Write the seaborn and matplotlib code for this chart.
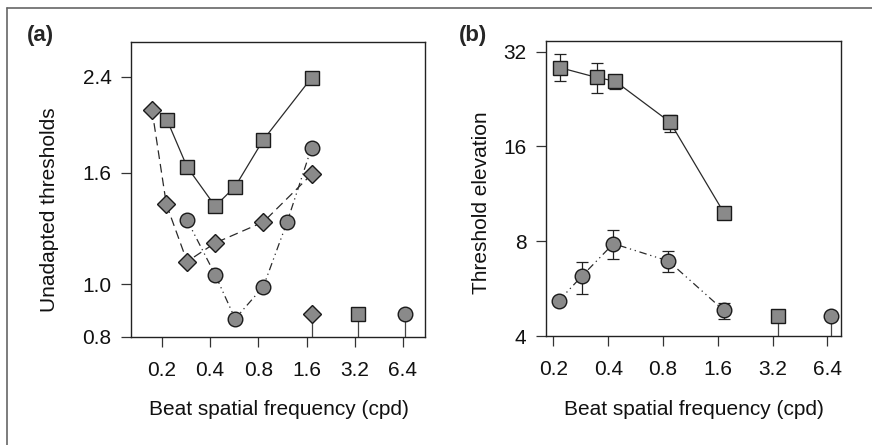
import matplotlib
matplotlib.use("Agg")
import matplotlib.pyplot as plt
from matplotlib.lines import Line2D
from matplotlib.ticker import FixedLocator, NullLocator, FixedFormatter
import seaborn as sns
import pandas as pd

sns.set_style("ticks")
plt.rcParams['font.family'] = ['Liberation Sans', 'DejaVu Sans']

# ---------------- data ----------------
xticks = [0.2, 0.4, 0.8, 1.6, 3.2, 6.4]
xtick_labels = ["0.2", "0.4", "0.8", "1.6", "3.2", "6.4"]

# Panel (a): unadapted thresholds
a_sq_x = [0.215, 0.287, 0.43, 0.573, 0.86, 1.72]
a_sq_y = [2.00, 1.64, 1.39, 1.51, 1.84, 2.39]
a_di_x = [0.173, 0.213, 0.287, 0.43, 0.86, 1.72]
a_di_y = [2.09, 1.40, 1.10, 1.19, 1.30, 1.59]
a_ci_x = [0.287, 0.43, 0.573, 0.86, 1.21, 1.72]
a_ci_y = [1.31, 1.04, 0.864, 0.99, 1.30, 1.78]
a_none_x = [1.72, 3.34, 6.62]
a_none_y = [0.88, 0.88, 0.88]
a_none_marker = ["D", "s", "o"]
a_yticks = [0.8, 1.0, 1.6, 2.4]
a_ytick_labels = ["0.8", "1.0", "1.6", "2.4"]

# Panel (b): threshold elevation
b_sq_x = [0.216, 0.346, 0.436, 0.875, 1.73]
b_sq_y = [28.5, 26.5, 25.8, 19.1, 9.84]
b_sq_lo = [25.8, 23.6, 24.3, 17.8, 9.84]
b_sq_hi = [31.4, 29.5, 27.0, 20.2, 9.84]
b_ci_x = [0.214, 0.286, 0.427, 0.857, 1.72]
b_ci_y = [5.18, 6.19, 7.86, 6.92, 4.83]
b_ci_lo = [5.18, 5.44, 7.05, 6.39, 4.52]
b_ci_hi = [5.18, 6.87, 8.71, 7.44, 5.10]
b_none_x = [3.44, 6.70]
b_none_y = [4.63, 4.63]
b_none_marker = ["s", "o"]
b_yticks = [4, 8, 16, 32]
b_ytick_labels = ["4", "8", "16", "32"]

# ---------------- style ----------------
FACE = "#8a8a8a"
EDGE = "#1a1a1a"
LINEC = "#2a2a2a"
FS = 15
MS = {"D": 9.5, "s": 10, "o": 10.5}

fig = plt.figure(figsize=(8.72, 4.45), dpi=100)
axa = fig.add_axes([131/872, 1-337/445, 294/872, 295/445])
axb = fig.add_axes([546/872, 1-336/445, 295/872, 295/445])


def series(ax, x, y, marker, ls):
    df = pd.DataFrame({"x": x, "y": y})
    sns.lineplot(data=df, x="x", y="y", ax=ax, sort=False, estimator=None,
                 color=LINEC, lw=0.9, linestyle=ls, marker=marker, markersize=MS[marker],
                 markerfacecolor=FACE, markeredgecolor=EDGE, markeredgewidth=1.0,
                 zorder=3)


def style_axes(ax, yticks, ylabels, ylim, xlim):
    ax.set_xscale("log", base=2)
    ax.set_yscale("log")
    ax.set_xlim(*xlim)
    ax.set_ylim(*ylim)
    ax.xaxis.set_major_locator(FixedLocator(xticks))
    ax.xaxis.set_major_formatter(FixedFormatter(xtick_labels))
    ax.xaxis.set_minor_locator(NullLocator())
    ax.yaxis.set_major_locator(FixedLocator(yticks))
    ax.yaxis.set_major_formatter(FixedFormatter(ylabels))
    ax.yaxis.set_minor_locator(NullLocator())
    ax.tick_params(axis="both", direction="out", length=7, width=0.9,
                   color="#333333", labelsize=FS, labelcolor="#111111")
    ax.tick_params(axis="x", pad=10)
    ax.tick_params(axis="y", pad=7)
    for s in ax.spines.values():
        s.set_visible(True)
        s.set_color("#222222")
        s.set_linewidth(1.0)
    ax.set_facecolor("white")


# ---------------- panel (a) ----------------
style_axes(axa, a_yticks, a_ytick_labels, (0.8, 2.78), (0.128, 8.8))
series(axa, a_sq_x, a_sq_y, "s", "-")
series(axa, a_di_x, a_di_y, "D", (0, (7, 4)))
series(axa, a_ci_x, a_ci_y, "o", (0, (6, 3, 1, 3, 1, 3)))
axa.vlines(a_none_x, 0.8, a_none_y, color="#444444", lw=0.9, zorder=2)
for xx, yy, mk in zip(a_none_x, a_none_y, a_none_marker):
    axa.plot([xx], [yy], marker=mk, ms=MS[mk], mfc=FACE,
             mec=EDGE, mew=1.0, ls="none", zorder=4)
axa.set_xlabel("Beat spatial frequency (cpd)", fontsize=FS, color="#111111")
axa.set_ylabel("Unadapted thresholds", fontsize=FS, color="#111111")
axa.xaxis.label.set_va("center")
axa.yaxis.label.set_va("center")
axa.xaxis.set_label_coords(0.503, -0.247)
axa.yaxis.set_label_coords(-0.276, 0.43)

# ---------------- panel (b) ----------------
style_axes(axb, b_yticks, b_ytick_labels, (4, 34.6), (0.182, 7.6))
axb.errorbar(b_sq_x, b_sq_y,
             yerr=[[m - l for m, l in zip(b_sq_y, b_sq_lo)],
                   [h - m for m, h in zip(b_sq_y, b_sq_hi)]],
             fmt="none", ecolor="#222222", elinewidth=0.9, capsize=4, capthick=0.9, zorder=2)
axb.errorbar(b_ci_x, b_ci_y,
             yerr=[[m - l for m, l in zip(b_ci_y, b_ci_lo)],
                   [h - m for m, h in zip(b_ci_y, b_ci_hi)]],
             fmt="none", ecolor="#222222", elinewidth=0.9, capsize=4, capthick=0.9, zorder=2)
series(axb, b_sq_x, b_sq_y, "s", "-")
series(axb, b_ci_x, b_ci_y, "o", (0, (6, 3, 1, 3, 1, 3)))
axb.vlines(b_none_x, 4, b_none_y, color="#444444", lw=0.9, zorder=2)
for xx, yy, mk in zip(b_none_x, b_none_y, b_none_marker):
    axb.plot([xx], [yy], marker=mk, ms=MS[mk], mfc=FACE, mec=EDGE,
             mew=1.0, ls="none", zorder=4)
axb.set_xlabel("Beat spatial frequency (cpd)", fontsize=FS, color="#111111")
axb.set_ylabel("Threshold elevation", fontsize=FS, color="#111111")
axb.xaxis.label.set_va("center")
axb.yaxis.label.set_va("center")
axb.xaxis.set_label_coords(0.50, -0.25)
axb.yaxis.set_label_coords(-0.217, 0.451)

# panel letters
fig.text(27/872, 1-36/445, "(a)", fontsize=16, fontweight="bold", va="center", ha="left")
fig.text(459/872, 1-36/445, "(b)", fontsize=16, fontweight="bold", va="center", ha="left")

# scanned frame edges (top and left)
fig.add_artist(Line2D([7/872, 1.0], [1-8/445, 1-8/445], transform=fig.transFigure,
                      color="#666666", lw=1.2))
fig.add_artist(Line2D([7/872, 7/872], [0.0, 1-8/445], transform=fig.transFigure,
                      color="#666666", lw=1.2))

fig.savefig("out.png", dpi=100, facecolor="white")
